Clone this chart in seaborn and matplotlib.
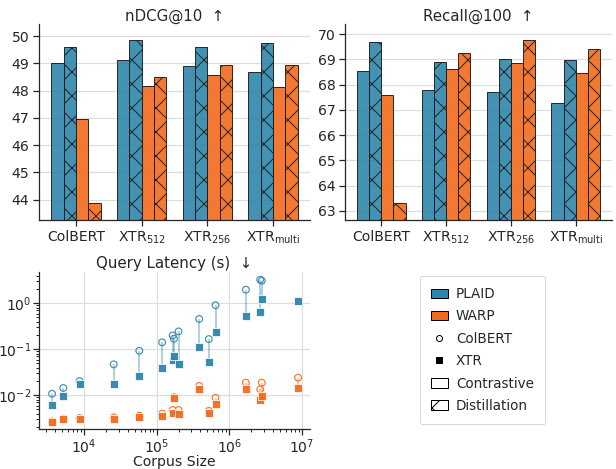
import numpy as np
import pandas as pd
import matplotlib
matplotlib.use("Agg")
import matplotlib.pyplot as plt
import seaborn as sns
from matplotlib.patches import Patch
from matplotlib.lines import Line2D

# ---------------- data ----------------
models = ["ColBERT", "XTR$_{512}$", "XTR$_{256}$", "XTR$_{\\mathrm{multi}}$"]
variants = ["PLAID-Contrastive", "PLAID-Distillation", "WARP-Contrastive", "WARP-Distillation"]

ndcg_plaid_con = [49.0, 49.12, 48.9, 48.67]
ndcg_plaid_dis = [49.6, 49.87, 49.62, 49.76]
ndcg_warp_con = [46.95, 48.18, 48.57, 48.15]
ndcg_warp_dis = [43.87, 48.5, 48.93, 48.93]

rec_plaid_con = [68.55, 67.77, 67.72, 67.28]
rec_plaid_dis = [69.67, 68.88, 69.0, 68.96]
rec_warp_con = [67.6, 68.63, 68.85, 68.46]
rec_warp_dis = [63.3, 69.24, 69.75, 69.43]

corpus_size = [3633, 5183, 8674, 25657, 57638, 119000, 166000, 173000, 200000,
               385000, 522000, 646000, 1690000, 2660000, 2800000, 8840000]
plaid_colbert = [0.0108, 0.0144, 0.0204, 0.047, 0.093, 0.142, 0.20, 0.17, 0.245,
                 0.457, 0.167, 0.91, 1.98, 3.26, 3.1, np.nan]
plaid_xtr = [0.0062, 0.0098, 0.0174, 0.0179, 0.0259, 0.0386, 0.058, 0.071, 0.049,
             0.11, 0.052, 0.234, 0.52, 0.65, 1.22, 1.1]
warp_colbert = [0.0027, 0.0031, 0.0032, 0.0033, 0.0036, 0.0040, 0.0048, 0.0091, 0.0048,
                0.016, 0.0046, 0.0088, 0.0188, 0.0135, 0.0188, 0.0242]
warp_xtr = [0.0026, 0.0030, 0.0031, 0.0031, 0.0034, 0.0036, 0.0041, 0.0089, 0.0040,
            0.0139, 0.0042, 0.0064, 0.0137, 0.0078, 0.0097, 0.0141]

BLUE = "#2E86AB"
ORANGE = "#F26B1D"

sns.set_theme(style="ticks")
plt.rcParams["font.family"] = ["DejaVu Sans"]
plt.rcParams["font.size"] = 14
plt.rcParams["hatch.linewidth"] = 1.0
plt.rcParams["hatch.color"] = "black"

DPI = 72
fig = plt.figure(figsize=(616 / DPI, 469 / DPI), dpi=DPI)

W, H = 616.0, 469.0
def box(x0, y0, x1, y1):
    return [x0 / W, 1 - y1 / H, (x1 - x0) / W, (y1 - y0) / H]

ax_n = fig.add_axes(box(39, 24, 310, 220))
ax_r = fig.add_axes(box(345, 24, 612, 220))
ax_l = fig.add_axes(box(39, 272, 310, 429))

palette = [BLUE, BLUE, ORANGE, ORANGE]


def bar_panel(ax, vals, title, ylim, yticks):
    rows = []
    for v, arr in zip(variants, vals):
        for m, y in zip(models, arr):
            rows.append({"model": m, "variant": v, "value": y})
    df = pd.DataFrame(rows)
    sns.barplot(data=df, x="model", y="value", hue="variant", hue_order=variants,
                order=models, palette=palette, width=0.75, ax=ax, legend=False,
                edgecolor=(0.1, 0.1, 0.1, 0.8), linewidth=1.0, alpha=0.9, saturation=1)
    for i, cont in enumerate(ax.containers):
        for p in cont.patches:
            if i % 2 == 1:
                p.set_hatch("x")
    ax.set_ylim(*ylim)
    ax.set_xlim(-0.56, 3.56)
    ax.set_yticks(yticks)
    ax.set_xlabel("")
    ax.set_ylabel("")
    ax.set_title(title, fontsize=15, pad=-0.5)
    ax.yaxis.grid(True, color="#dddddd", linewidth=1.2)
    ax.set_axisbelow(True)
    ax.tick_params(labelsize=14)
    sns.despine(ax=ax)


bar_panel(ax_n, [ndcg_plaid_con, ndcg_plaid_dis, ndcg_warp_con, ndcg_warp_dis],
          "nDCG@10  ↑", (43.25, 50.45), [44, 45, 46, 47, 48, 49, 50])
bar_panel(ax_r, [rec_plaid_con, rec_plaid_dis, rec_warp_con, rec_warp_dis],
          "Recall@100  ↑", (62.64, 70.4), [63, 64, 65, 66, 67, 68, 69, 70])

# ---------------- latency ----------------
xs = np.array(corpus_size, dtype=float)
for col_v, xtr_v, c in [(plaid_colbert, plaid_xtr, BLUE), (warp_colbert, warp_xtr, ORANGE)]:
    cv = np.array(col_v, dtype=float)
    xv = np.array(xtr_v, dtype=float)
    ok = ~np.isnan(cv)
    ax_l.vlines(xs[ok], xv[ok], cv[ok], color=c, alpha=0.5, linewidth=1.5, zorder=2)
    sns.scatterplot(x=xs[ok], y=cv[ok], marker="o", s=45, facecolors="none",
                    edgecolor=c, linewidth=1.2, alpha=0.9, ax=ax_l, zorder=3)
    sns.scatterplot(x=xs, y=xv, marker="s", s=55, color=c, edgecolor=(1, 1, 1, 0.6),
                    linewidth=0.8, alpha=0.95, ax=ax_l, zorder=4)

ax_l.set_xscale("log")
ax_l.set_yscale("log")
ax_l.set_xlim(2400, 1.29e7)
ax_l.set_ylim(0.00185, 4.8)
ax_l.set_title("Query Latency (s)  ↓", fontsize=15, pad=4)
ax_l.set_xlabel("Corpus Size", fontsize=14, labelpad=-1)
ax_l.grid(True, which="major", color="#dddddd", linewidth=1.2)
ax_l.set_axisbelow(True)
ax_l.tick_params(labelsize=14, pad=2)
ax_l.tick_params(which="minor", length=3)
sns.despine(ax=ax_l)

# ---------------- legend ----------------
handles = [
    Patch(facecolor=BLUE, edgecolor="black", label="PLAID"),
    Patch(facecolor=ORANGE, edgecolor="black", label="WARP"),
    Line2D([], [], marker="o", linestyle="none", markerfacecolor="white",
           markeredgecolor="black", markersize=6, label="ColBERT"),
    Line2D([], [], marker="s", linestyle="none", color="black", markersize=6, label="XTR"),
    Patch(facecolor="white", edgecolor="black", label="Contrastive"),
    Patch(facecolor="white", edgecolor="black", hatch="x", label="Distillation"),
]
fig.legend(handles=handles, loc="center", bbox_to_anchor=(482.5 / W, 1 - 350 / H),
           fontsize=13.5, frameon=True, labelspacing=0.62, handlelength=1.25,
           handletextpad=0.6, borderpad=0.85, edgecolor="#cccccc")

fig.savefig("out.png", dpi=DPI)
